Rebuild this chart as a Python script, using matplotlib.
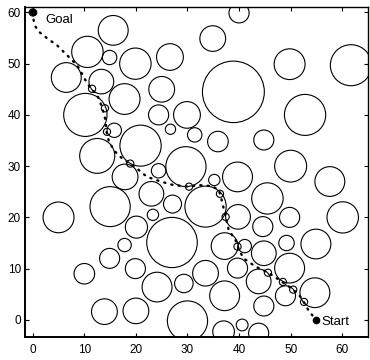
import matplotlib
matplotlib.use("Agg")
import matplotlib.pyplot as plt
from matplotlib.patches import Circle

plt.rcParams['font.family'] = ['Liberation Sans', 'DejaVu Sans']

# obstacles: centre x, centre y, radius
obs_x = [15.6, 34.9, 40.0, 10.6, 14.9, 19.9, 26.6, 49.8, 61.7, 6.5,
         13.3, 17.8, 25.0, 38.9, 10.2, 24.4, 29.9, 26.7, 15.8, 31.4,
         35.9, 44.8, 52.8, 20.9, 12.5, 29.7, 17.9, 24.4, 35.2, 39.7,
         50.0, 57.6, 15.0, 5.0, 23.0, 27.1, 23.3, 20.1, 27.0, 17.8,
         14.9, 19.9, 10.0, 24.1, 29.3, 13.9, 20.0, 30.0, 33.5, 45.5,
         39.8, 49.8, 44.6, 60.1, 37.2, 41.1, 44.8, 49.2, 54.9, 39.7,
         49.8, 33.5, 43.8, 54.7, 49.0, 37.2, 44.8, 37.0, 40.6, 43.8]
obs_y = [56.5, 54.9, 59.9, 52.3, 51.2, 50.0, 51.3, 49.9, 49.7, 47.3,
         46.5, 43.1, 45.0, 44.5, 40.0, 40.0, 40.0, 37.2, 37.0, 36.1,
         34.8, 35.1, 40.0, 34.0, 32.0, 29.9, 27.9, 29.1, 27.3, 27.9,
         30.0, 27.0, 22.1, 20.0, 24.6, 22.6, 20.5, 18.1, 15.1, 14.6,
         12.0, 10.0, 9.0, 6.4, 7.1, 1.6, 1.75, -0.2, 22.1, 23.7,
         20.1, 20.0, 18.2, 20.0, 14.4, 14.4, 13.0, 15.0, 14.8, 10.1,
         10.1, 9.1, 7.5, 5.3, 4.7, 4.7, 2.7, -2.3, -1.0, -2.6]
obs_r = [2.9, 2.5, 1.95, 3.05, 1.4, 3.05, 2.6, 3.0, 4.0, 2.9,
         2.4, 3.0, 2.5, 6.0, 4.2, 1.95, 2.6, 1.0, 1.4, 1.4,
         2.0, 1.95, 4.0, 4.0, 3.4, 3.9, 2.5, 1.4, 1.1, 2.9,
         3.1, 2.9, 3.9, 3.0, 2.4, 1.75, 1.1, 2.15, 4.9, 1.3,
         1.95, 1.95, 2.0, 2.9, 1.8, 2.5, 2.5, 3.9, 4.0, 3.05,
         2.4, 1.95, 1.95, 3.05, 2.6, 1.3, 2.4, 1.5, 2.9, 1.95,
         2.9, 2.5, 2.4, 2.9, 1.95, 2.9, 1.95, 2.1, 1.15, 1.95]

# small obstacles touched by the path
small_x = [0.0, 11.5, 14.0, 14.4, 18.9, 30.3, 36.3, 37.4, 39.7, 45.6, 48.5, 50.5, 52.6]
small_y = [60.0, 45.1, 41.3, 36.7, 30.5, 26.0, 24.6, 20.1, 14.3, 9.2, 7.4, 5.9, 3.5]
small_r = 0.7

# path waypoints from goal to start
path_x = [0.0, 0.2, 0.5, 1.1, 2.0, 3.1, 4.6, 6.0, 7.3, 8.6, 9.2, 10.2, 11.2, 12.5,
          13.4, 14.1, 14.3, 14.7, 15.7, 17.0, 18.8, 20.2, 20.9, 22.2, 24.8, 27.3,
          30.3, 32.2, 34.8, 36.1, 36.7, 37.4, 38.0, 39.3, 40.0, 40.9, 43.2, 45.7,
          48.5, 50.4, 51.9, 52.6, 53.6, 55.0]
path_y = [60.0, 58.3, 57.3, 56.3, 55.6, 54.7, 53.7, 52.3, 51.0, 49.7, 48.7, 46.8, 45.2, 43.9,
          41.6, 39.0, 36.7, 35.1, 33.1, 31.8, 30.5, 29.6, 28.9, 27.9, 27.0, 26.3,
          26.0, 26.3, 26.1, 25.3, 23.1, 20.1, 17.5, 15.6, 13.6, 12.0, 10.4, 9.2,
          7.3, 6.0, 4.5, 3.4, 1.6, 0.0]

start = (55, 0)
goal = (0, 60)

fig = plt.figure(figsize=(3.7, 3.6), dpi=100)
ax = fig.add_axes([0.0676, 0.0631, 0.927, 0.9166])

for x, y, r in zip(obs_x, obs_y, obs_r):
    ax.add_patch(Circle((x, y), r, fill=False, ec='black', lw=0.8))
for x, y in zip(small_x, small_y):
    ax.add_patch(Circle((x, y), small_r, fill=False, ec='black', lw=0.8))

ax.plot(path_x, path_y, color='black', lw=1.7, linestyle=(0, (0.5, 2.6)),
        dash_capstyle='round')
ax.plot(*start, 'o', color='black', ms=4.5)
ax.plot(*goal, 'o', color='black', ms=4.5)
ax.text(2.4, 58.6, 'Goal', fontsize=9.5, va='center', ha='left')
ax.text(56.0, -0.5, 'Start', fontsize=9.5, va='center', ha='left')

ax.set_xlim(-1.5, 65)
ax.set_ylim(-3.4, 61)
ax.set_xticks(range(0, 61, 10))
ax.set_yticks(range(0, 61, 10))
ax.tick_params(direction='in', length=3, width=0.8, labelsize=8.5,
               top=True, right=True)
ax.tick_params(axis='x', pad=5)
ax.tick_params(axis='y', pad=3)
for s in ax.spines.values():
    s.set_linewidth(1.0)
ax.spines['left'].set_linewidth(1.4)
ax.spines['bottom'].set_linewidth(1.4)

fig.savefig('out.png', dpi=100)
